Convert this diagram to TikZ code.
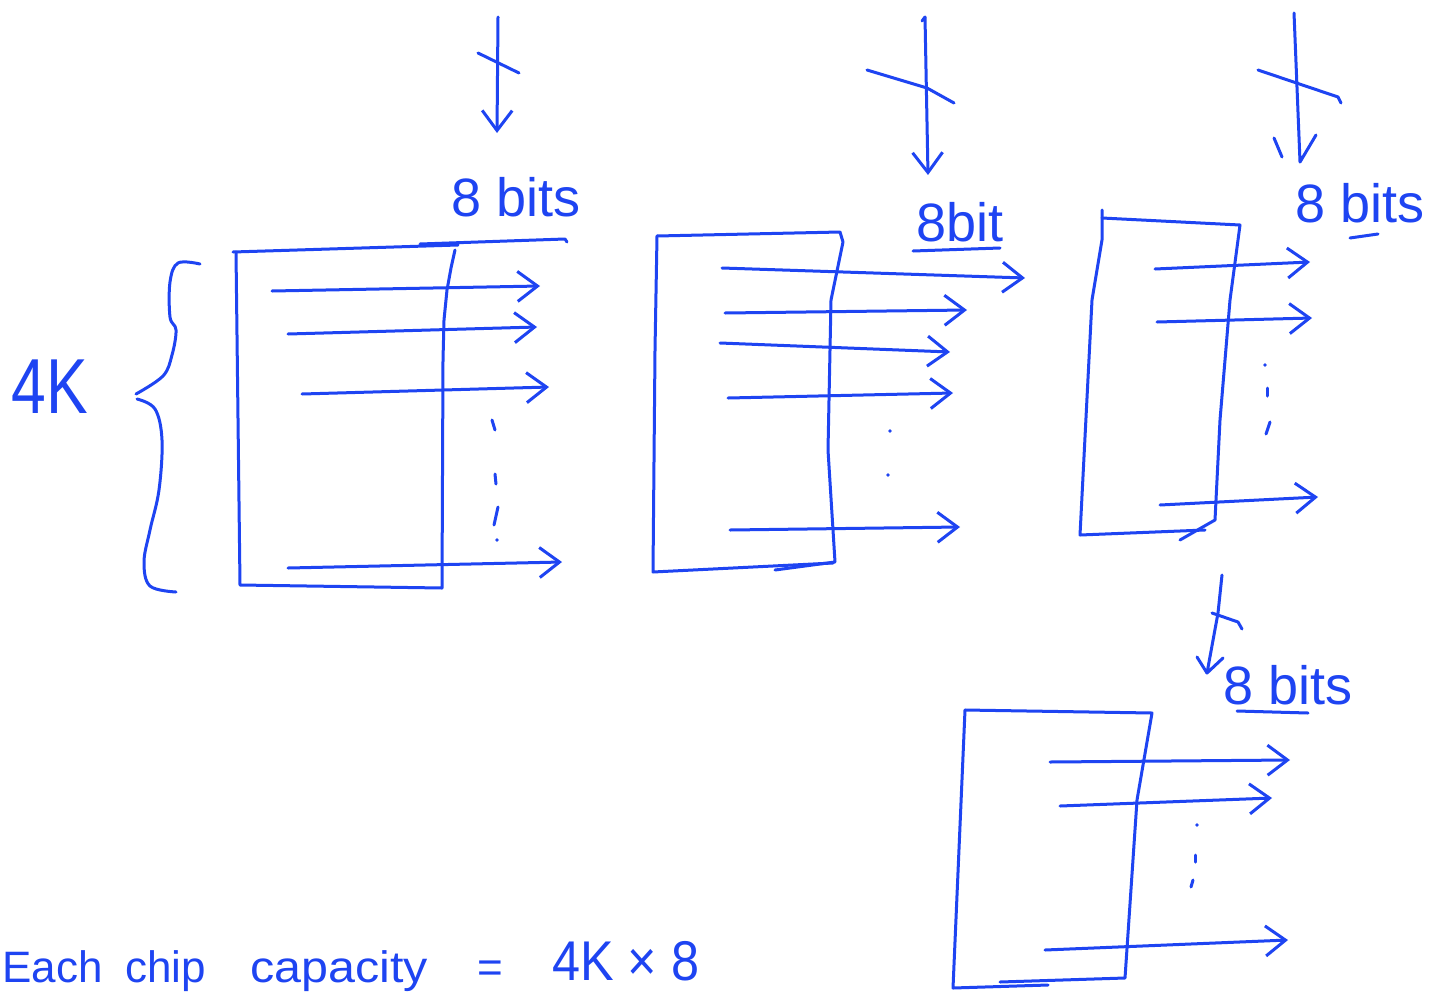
\documentclass[tikz,border=0pt]{standalone}
\usepackage{fontspec}
\setmainfont{Liberation Sans}
\usetikzlibrary{arrows.meta}
\definecolor{ink}{RGB}{30,68,242}
\begin{document}
\begin{tikzpicture}[x=1pt,y=-1pt,
  pen/.style={draw=ink,line width=3pt,line cap=round,line join=round},
  arr/.style={pen,-{Straight Barb[length=20pt,width=30pt]}},
  lbl/.style={text=ink,inner sep=0pt,font=\fontsize{54}{60}\selectfont},
  big/.style={text=ink,inner sep=0pt,font=\fontsize{78}{84}\selectfont},
  foot/.style={text=ink,inner sep=0pt,anchor=base west,font=\fontsize{44}{50}\selectfont}]
\useasboundingbox (0,0) rectangle (1439,993);
\fill[white] (0,0) rectangle (1439,993);
\clip (0,0) rectangle (1439,993);

% ---------- 4K and brace ----------
\node[big] (fourk) at (50,387) {\scalebox{0.8}[1]{4K}};
\draw[pen] plot[smooth,tension=0.6] coordinates {(200,264) (178,263) (170,282) (170,317) (176,330) (172,355) (163,376) (136,394)};
\draw[pen] plot[smooth,tension=0.6] coordinates {(137,399) (155,409) (162,440) (159,490) (150,530) (144,562) (150,586) (176,592)};

% ---------- chip 1 ----------
\draw[pen] (233,252) -- (458,245);
\draw[pen] (236,252) -- (240,585) -- (442,588) -- (443,360) -- (444,320) -- (447,290) -- (451,268) -- (455,250);
\draw[pen] (420,244) -- (565,239) -- (567,242);
\coordinate (a1s) at (272,291); \coordinate (a1e) at (540,286);
\coordinate (a2s) at (288,334); \coordinate (a2e) at (537,327);
\coordinate (a3s) at (302,394); \coordinate (a3e) at (549,387);
\coordinate (a4s) at (288,568); \coordinate (a4e) at (562,562);
\draw[arr] (a1s) -- (a1e);
\draw[arr] (a2s) -- (a2e);
\draw[arr] (a3s) -- (a3e);
\draw[arr] (a4s) -- (a4e);
\draw[pen] (492,420) -- (495,430);
\draw[pen] (495,474) -- (496,484);
\draw[pen] (498,507) -- (494,525);
\fill[ink] (497,540) circle (1.8);
\coordinate (i1s) at (498,17); \coordinate (i1e) at (497,133);
\draw[arr] (i1s) -- (i1e);
\draw[pen] (478,53) -- (519,73);
\node[lbl] (l1) at (516,197) {8 bits};

% ---------- chip 2 ----------
\draw[pen] (657,236) -- (840,232) -- (843,242) -- (831,300) -- (828,450) -- (835,562) -- (775,570);
\draw[pen] (657,236) -- (655,350) -- (653,572) -- (833,563);
\coordinate (b1s) at (722,268); \coordinate (b1e) at (1025,278);
\coordinate (b2s) at (725,313); \coordinate (b2e) at (967,310);
\coordinate (b3s) at (720,343); \coordinate (b3e) at (950,352);
\coordinate (b4s) at (728,398); \coordinate (b4e) at (953,393);
\coordinate (b5s) at (730,530); \coordinate (b5e) at (960,527);
\draw[arr] (b1s) -- (b1e);
\draw[arr] (b2s) -- (b2e);
\draw[arr] (b3s) -- (b3e);
\draw[arr] (b4s) -- (b4e);
\draw[arr] (b5s) -- (b5e);
\fill[ink] (890,431) circle (1.8);
\fill[ink] (888,475) circle (1.8);
\coordinate (i2s) at (925,17); \coordinate (i2e) at (928,175);
\draw[arr] (i2s) -- (i2e);
\draw[pen] (922,21) -- (925,17);
\draw[pen] (867,70) -- (927,88) -- (954,103);
\node[lbl] (l2) at (960,222) {8bit};
\draw[pen] (913,251) -- (1000,248);

% ---------- chip 3 ----------
\draw[pen] (1102,210) -- (1102,240) -- (1092,300) -- (1080,535) -- (1205,530);
\draw[pen] (1102,218) -- (1240,225) -- (1230,300) -- (1220,420) -- (1215,520) -- (1180,540);
\coordinate (c1s) at (1155,269); \coordinate (c1e) at (1310,262);
\coordinate (c2s) at (1157,322); \coordinate (c2e) at (1312,318);
\coordinate (c3s) at (1160,505); \coordinate (c3e) at (1318,497);
\draw[arr] (c1s) -- (c1e);
\draw[arr] (c2s) -- (c2e);
\draw[arr] (c3s) -- (c3e);
\fill[ink] (1265,365) circle (1.8);
\draw[pen] (1267,388) -- (1267,396);
\draw[pen] (1270,422) -- (1266,434);
\coordinate (i3s) at (1294,13); \coordinate (i3e) at (1300,162);
\draw[pen] (i3s) -- (i3e) -- (1316,135);
\draw[pen] (1274,138) -- (1282,157);
\draw[pen] (1258,70) -- (1338,97) -- (1341,103);
\node[lbl] (l3) at (1360,203) {8 bits};
\draw[pen] (1350,238) -- (1378,234);

% ---------- chip 4 ----------
\draw[pen] (965,710) -- (1152,713) -- (1137,800) -- (1125,978) -- (1000,982);
\draw[pen] (965,710) -- (953,988) -- (1048,985);
\coordinate (d1s) at (1050,762); \coordinate (d1e) at (1290,760);
\coordinate (d2s) at (1060,806); \coordinate (d2e) at (1272,798);
\coordinate (d3s) at (1045,950); \coordinate (d3e) at (1288,940);
\draw[arr] (d1s) -- (d1e);
\draw[arr] (d2s) -- (d2e);
\draw[arr] (d3s) -- (d3e);
\fill[ink] (1197,825) circle (1.8);
\draw[pen] (1195,855) -- (1195,862);
\draw[pen] (1193,880) -- (1191,887);
\coordinate (i4s) at (1222,575); \coordinate (i4e) at (1207,673);
\draw[pen] (i4s) -- (1218,613) -- (i4e) -- (1223,658);
\draw[pen] (1197,657) -- (1207,673);
\draw[pen] (1212,613) -- (1238,622) -- (1242,629);
\node[lbl] (l4) at (1288,685) {8 bits};
\draw[pen] (1237,711) -- (1308,713);

% ---------- footer ----------
\node[foot] (f1) at (2,982) {Each};
\node[foot] (f2) at (125,982) {chip};
\node[foot] (f3) at (250,982) {\scalebox{1.1}[1]{capacity}};
\node[foot] (f4) at (477,982) {=};
\node[foot,font=\fontsize{56}{62}\selectfont] (f5) at (552,980) {\scalebox{0.9}[1]{4K × 8}};
\end{tikzpicture}
\end{document}
